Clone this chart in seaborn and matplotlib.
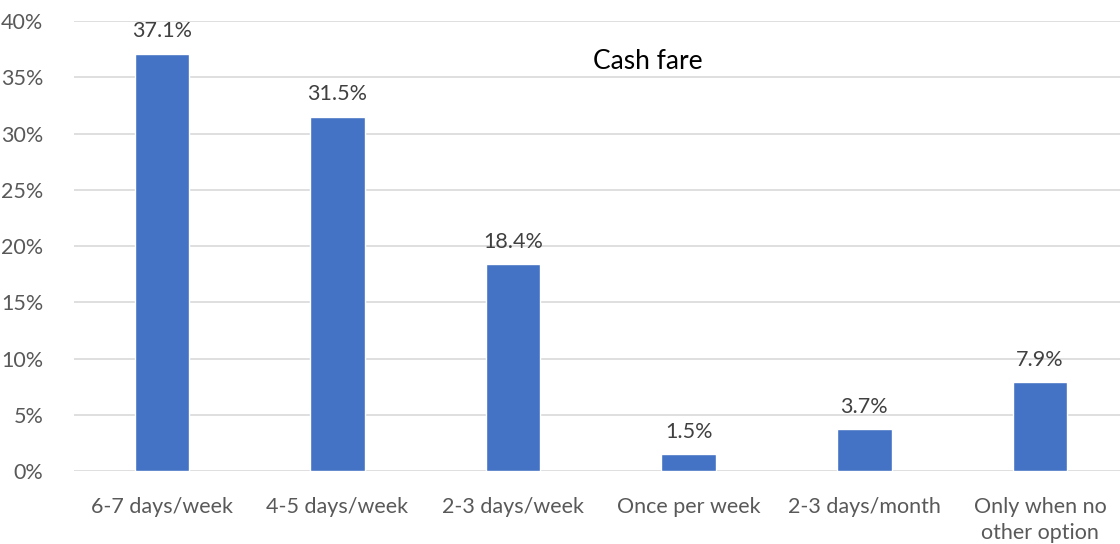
import matplotlib
matplotlib.use("Agg")
import matplotlib.pyplot as plt
import seaborn as sns
import pandas as pd
from matplotlib.ticker import PercentFormatter

categories = ["6-7 days/week", "4-5 days/week", "2-3 days/week",
              "Once per week", "2-3 days/month", "Only when no\nother option"]
shares = [37.1, 31.5, 18.4, 1.5, 3.7, 7.9]
title = "Cash fare"

df = pd.DataFrame({"category": categories, "share": shares})

sns.set_style("white")
plt.rcParams["font.family"] = ["Lato", "DejaVu Sans"]
text_color = "#595959"

fig = plt.figure(figsize=(11.2, 5.44), dpi=100)
ax = fig.add_axes([0.066, 0.134, 0.941, 0.827])

sns.barplot(data=df, x="category", y="share", color="#4472C4",
            width=0.31, saturation=1, ax=ax, zorder=3)

for i, v in enumerate(shares):
    ax.text(i, v + 1.1, f"{v:.1f}%", ha="center", va="bottom",
            fontsize=15.5, color="#404040")

ax.set_ylim(0, 40)
ax.set_yticks(range(0, 41, 5))
ax.yaxis.set_major_formatter(PercentFormatter(decimals=0))
ax.grid(axis="y", color="#D9D9D9", linewidth=1.2, zorder=0)
ax.set_xlabel("")
ax.set_ylabel("")
for s in ax.spines.values():
    s.set_visible(False)
ax.tick_params(axis="both", length=0, labelsize=15.5, colors=text_color)
ax.tick_params(axis="x", pad=19)
ax.tick_params(axis="y", pad=22)
for lbl in ax.get_xticklabels():
    lbl.set_linespacing(1.35)

ax.text(0.545, 0.91, title, transform=ax.transAxes, ha="center", va="center",
        fontsize=19, color="black")

fig.savefig("out.png", dpi=100)
